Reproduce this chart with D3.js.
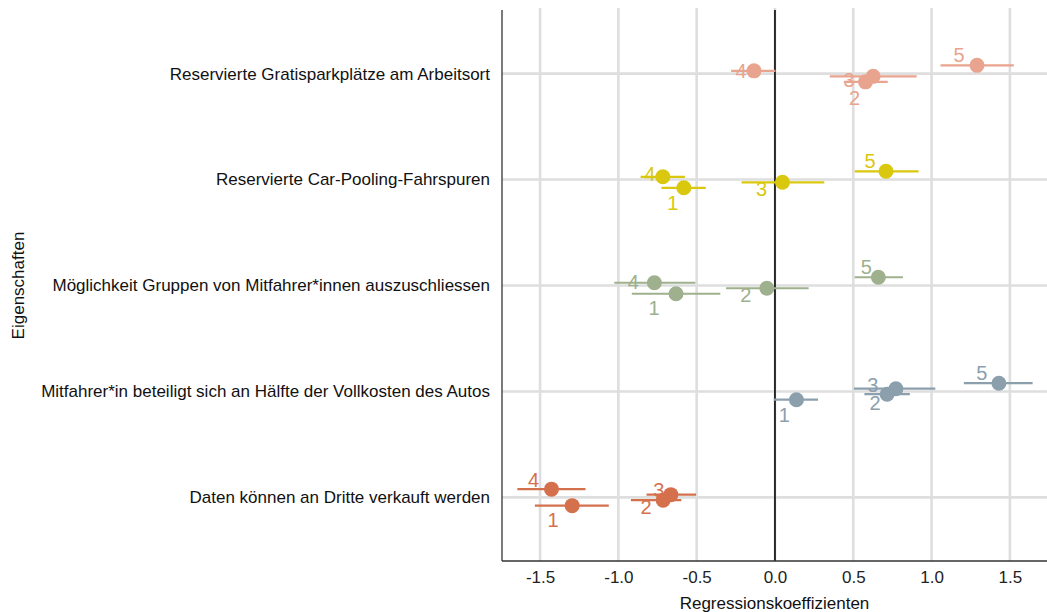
<!DOCTYPE html>
<html lang="de">
<head>
<meta charset="UTF-8" />
<title>Regressionskoeffizienten</title>
<script src="https://d3js.org/d3.v7.min.js"></script>
<style>
  body { margin: 0; background: #fff; }
  text { font-family: "Liberation Sans", Arial, sans-serif; }
</style>
</head>
<body>
<script>
// categories, top to bottom
var categories = [
  "Reservierte Gratisparkplätze am Arbeitsort",
  "Reservierte Car-Pooling-Fahrspuren",
  "Möglichkeit Gruppen von Mitfahrer*innen auszuschliessen",
  "Mitfahrer*in beteiligt sich an Hälfte der Vollkosten des Autos",
  "Daten können an Dritte verkauft werden"
];
var colors = ["#e8a48e", "#d9c80e", "#9eb08d", "#8b9fad", "#d4714c"];

// per category: levels (dodged top to bottom), estimates and CI bounds
var levels   = [[5, 4, 3, 2], [5, 4, 3, 1], [5, 4, 2, 1], [5, 3, 2, 1], [4, 3, 2, 1]];
var estimate = [[1.29, -0.134, 0.627, 0.578], [0.709, -0.716, 0.048, -0.582], [0.66, -0.77, -0.052, -0.632], [1.43, 0.772, 0.716, 0.137], [-1.427, -0.665, -0.714, -1.295]];
var ciLow    = [[1.057, -0.28, 0.35, 0.44], [0.509, -0.858, -0.213, -0.725], [0.509, -1.026, -0.313, -0.914], [1.206, 0.504, 0.571, -0.008], [-1.645, -0.82, -0.92, -1.533]];
var ciHigh   = [[1.525, 0.003, 0.905, 0.72], [0.917, -0.575, 0.315, -0.442], [0.817, -0.509, 0.215, -0.349], [1.645, 1.024, 0.861, 0.275], [-1.21, -0.504, -0.598, -1.061]];
var xTicks = [-1.5, -1.0, -0.5, 0.0, 0.5, 1.0, 1.5];

// label placement (repelled text), px offsets from the point
var labelOffsets = [
  [[-18, -10], [-13, 0], [-24, 4], [-11, 16]],
  [[-16, -10], [-13, -3], [-21, 7], [-11, 15]],
  [[-12, -10], [-21, -1], [-21, 7], [-22, 14]],
  [[-17, -10], [-23, -4], [-12, 9], [-12, 15]],
  [[-18, -9], [-12, -5], [-17, 7], [-19, 14]]
];

var W = 1047, H = 612;
var pLeft = 502, pRight = 1047, pTop = 10, pBottom = 561;
var fontSize = 17;

var rows = [];
categories.forEach(function (c, i) {
  levels[i].forEach(function (l, j) {
    rows.push({ cat: c, ci: i, slot: j, level: l, est: estimate[i][j], lo: ciLow[i][j], hi: ciHigh[i][j], off: labelOffsets[i][j] });
  });
});

var x = d3.scaleLinear().domain([-1.743, 1.737]).range([pLeft, pRight]);
var y = d3.scalePoint().domain(categories).range([pTop, pBottom]).padding(0.6);
var dodge = d3.scaleBand().domain([0, 1, 2, 3]).range([-11, 11]);
function yPos(d) { return y(d.cat) + dodge(d.slot) + dodge.bandwidth() / 2; }

var svg = d3.select("body").append("svg")
  .attr("width", W).attr("height", H);

// grid
svg.append("g").selectAll("line").data(xTicks).enter().append("line")
  .attr("x1", d => x(d)).attr("x2", d => x(d))
  .attr("y1", pTop - 2).attr("y2", pBottom)
  .attr("stroke", "#dedede").attr("stroke-width", 2.6);
svg.append("g").selectAll("line").data(categories).enter().append("line")
  .attr("x1", pLeft).attr("x2", pRight)
  .attr("y1", d => y(d)).attr("y2", d => y(d))
  .attr("stroke", "#dedede").attr("stroke-width", 2.6);

// zero line
svg.append("line")
  .attr("x1", x(0)).attr("x2", x(0)).attr("y1", pTop).attr("y2", pBottom)
  .attr("stroke", "#000").attr("stroke-width", 1.6);

// axes
var xAxis = d3.axisBottom(x).tickValues(xTicks).tickFormat(d => d.toFixed(1)).tickSize(0).tickPadding(10);
var gx = svg.append("g").attr("transform", "translate(0," + pBottom + ")").call(xAxis);
gx.select(".domain").attr("stroke", "#333").attr("stroke-width", 1.3).attr("d", "M" + pLeft + ",0H" + pRight);
gx.selectAll("text").attr("font-size", fontSize).attr("fill", "#222")
  .style("font-family", "'Liberation Sans', Arial, sans-serif");

var yAxis = d3.axisLeft(y).tickSize(0).tickPadding(12);
var gy = svg.append("g").attr("transform", "translate(" + pLeft + ",0)").call(yAxis);
gy.select(".domain").attr("stroke", "#333").attr("stroke-width", 1.3).attr("d", "M0," + pTop + "V" + pBottom);
gy.selectAll("text").attr("font-size", fontSize).attr("fill", "#111")
  .style("font-family", "'Liberation Sans', Arial, sans-serif");

// error bars
svg.append("g").selectAll("line").data(rows).enter().append("line")
  .attr("x1", d => x(d.lo)).attr("x2", d => x(d.hi))
  .attr("y1", yPos).attr("y2", yPos)
  .attr("stroke", d => colors[d.ci]).attr("stroke-width", 2.2);

// points
svg.append("g").selectAll("circle").data(rows).enter().append("circle")
  .attr("cx", d => x(d.est)).attr("cy", yPos).attr("r", 7.5)
  .attr("fill", d => colors[d.ci]);

// level labels
svg.append("g").selectAll("text").data(rows).enter().append("text")
  .attr("x", d => x(d.est) + d.off[0])
  .attr("y", d => yPos(d) + d.off[1])
  .attr("text-anchor", "middle").attr("dominant-baseline", "central")
  .attr("font-size", 20).attr("fill", d => colors[d.ci])
  .text(d => d.level);

// titles
svg.append("text").attr("x", (pLeft + pRight) / 2).attr("y", 603)
  .attr("text-anchor", "middle").attr("dominant-baseline", "central")
  .attr("font-size", fontSize).attr("fill", "#111").text("Regressionskoeffizienten");
svg.append("text").attr("transform", "translate(18," + (pTop + pBottom) / 2 + ") rotate(-90)")
  .attr("text-anchor", "middle").attr("dominant-baseline", "central")
  .attr("font-size", fontSize).attr("fill", "#111").text("Eigenschaften");
</script>
</body>
</html>
